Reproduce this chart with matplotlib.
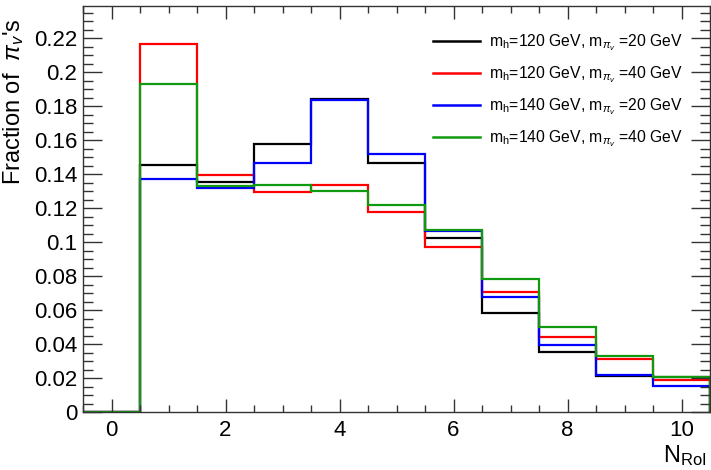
import matplotlib
matplotlib.use("Agg")
import matplotlib.pyplot as plt
from matplotlib.ticker import MultipleLocator, FuncFormatter
import numpy as np

plt.rcParams['font.family'] = ['Liberation Sans', 'DejaVu Sans']
plt.rcParams['mathtext.fontset'] = 'custom'
plt.rcParams['mathtext.rm'] = 'Liberation Sans'
plt.rcParams['mathtext.it'] = 'Liberation Sans:italic'
plt.rcParams['mathtext.bf'] = 'Liberation Sans:bold'

# Data
bin_edges = np.arange(-0.5, 11.0, 1.0)
h120_20 = [0.0, 0.1453, 0.1355, 0.1575, 0.1842, 0.1467, 0.1025, 0.0582, 0.0353, 0.0214, 0.0205]
h120_40 = [0.0, 0.2169, 0.1394, 0.1294, 0.1337, 0.1180, 0.0973, 0.0704, 0.0441, 0.0314, 0.0190]
h140_20 = [0.0, 0.1370, 0.1316, 0.1467, 0.1835, 0.1517, 0.1068, 0.0678, 0.0396, 0.0220, 0.0153]
h140_40 = [0.0, 0.1930, 0.1333, 0.1339, 0.1300, 0.1218, 0.1071, 0.0782, 0.0498, 0.0331, 0.0206]

labels = [r'm$_{\mathrm{h}}$=120 GeV, m$_{\pi_{v}}$ =20 GeV',
          r'm$_{\mathrm{h}}$=120 GeV, m$_{\pi_{v}}$ =40 GeV',
          r'm$_{\mathrm{h}}$=140 GeV, m$_{\pi_{v}}$ =20 GeV',
          r'm$_{\mathrm{h}}$=140 GeV, m$_{\pi_{v}}$ =40 GeV']
colors = ['black', '#ff0000', '#0000ff', '#109a10']
series = [h120_20, h120_40, h140_20, h140_40]

W, H = 711, 470
fig = plt.figure(figsize=(W / 100, H / 100), dpi=100)
ax = fig.add_axes([83 / W, 1 - 412 / H, (710 - 83) / W, (412 - 6) / H])

handles = []
for vals, col, lab in zip(series, colors, labels):
    ax.stairs(vals, bin_edges, color=col, linewidth=1.6, baseline=0)
    h, = ax.plot([], [], color=col, linewidth=1.8, label=lab)
    handles.append(h)

ax.set_xlim(-0.5, 10.5)
ax.set_ylim(0, 0.239)

ax.xaxis.set_major_locator(MultipleLocator(2))
ax.xaxis.set_minor_locator(MultipleLocator(0.5))
ax.yaxis.set_major_locator(MultipleLocator(0.02))
ax.yaxis.set_minor_locator(MultipleLocator(0.005))
ax.yaxis.set_major_formatter(FuncFormatter(lambda v, p: ('%.2f' % v).rstrip('0').rstrip('.') if v != 0 else '0'))

ax.tick_params(axis='both', which='both', direction='in', top=True, right=True,
               labelsize=16, width=1.0, color='#333333')
ax.tick_params(axis='x', which='major', length=9.5, pad=6)
ax.tick_params(axis='x', which='minor', length=5)
ax.tick_params(axis='y', which='major', length=13.5, pad=4)
ax.tick_params(axis='y', which='minor', length=7)
for s in ax.spines.values():
    s.set_linewidth(1.0)
    s.set_color('#333333')

leg = ax.legend(handles=handles, loc='upper right', bbox_to_anchor=(689 / W, 1 - 26 / H),
                bbox_transform=fig.transFigure, frameon=False, fontsize=11.3,
                handlelength=3.0, handletextpad=0.55, labelspacing=0.74, borderaxespad=0)

fig.text(706 / W, 1 - 443 / H, r'N$_{\mathrm{RoI}}$', ha='right', va='top', fontsize=17)
fig.text(14 / W, 1 - 18 / H, r"Fraction of  $\pi_{v}$'s", rotation=90, ha='center', va='top', fontsize=17)

fig.savefig('out.png', dpi=100)
